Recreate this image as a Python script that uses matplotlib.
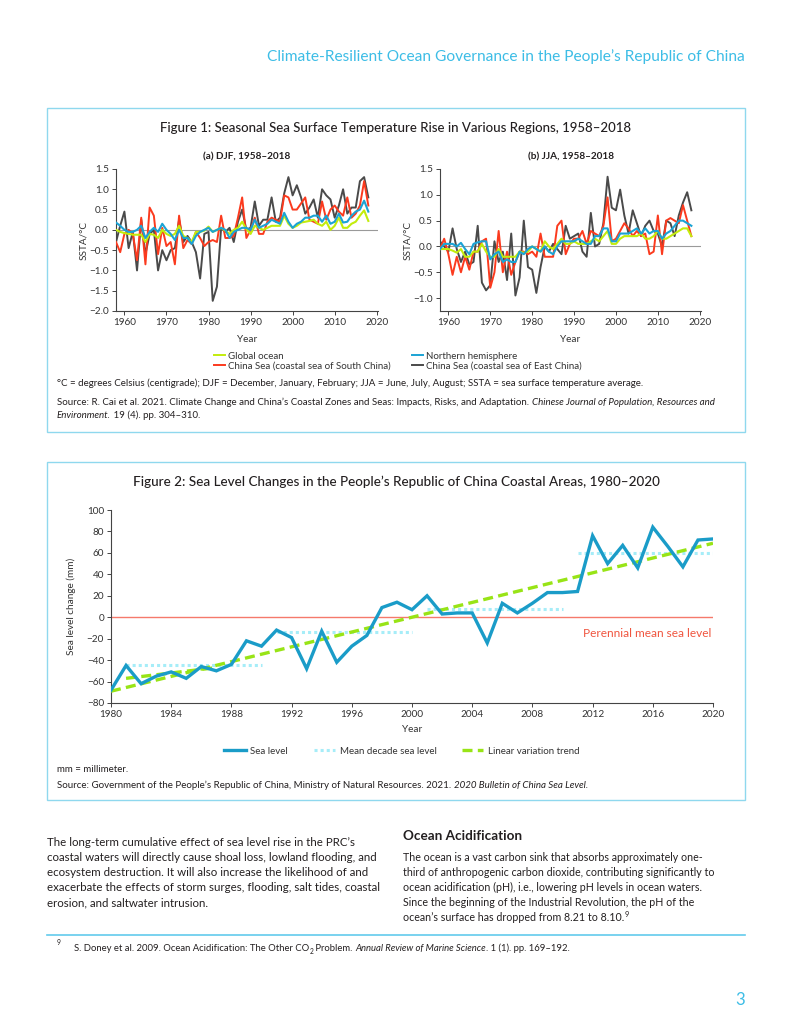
import matplotlib
matplotlib.use("Agg")
import matplotlib.pyplot as plt
from matplotlib.lines import Line2D
from matplotlib.patches import Rectangle

plt.rcParams['font.family'] = ['Lato', 'DejaVu Sans']
plt.rcParams['axes.unicode_minus'] = True

# ---------------------------------------------------------------
# Figure 1 data: seasonal SST anomalies, 1958-2018
# ---------------------------------------------------------------
years = list(range(1958, 2019))

djf_global = [0.0, -0.05, -0.08, -0.1, -0.12, -0.12, -0.12, -0.3, -0.1, -0.12,
              -0.2, 0.0, -0.1, -0.15, -0.1, 0.1, -0.15, -0.2, -0.3, -0.05,
              -0.05, -0.02, 0.08, -0.05, 0.0, 0.05, -0.02, -0.1, 0.0, 0.05,
              0.2, 0.02, -0.1, 0.1, 0.05, 0.0, 0.05, 0.1, 0.1, 0.1,
              0.35, 0.15, 0.05, 0.1, 0.18, 0.2, 0.22, 0.25, 0.15, 0.1,
              0.2, 0.0, 0.1, 0.3, 0.05, 0.05, 0.15, 0.2, 0.35, 0.48, 0.22]
djf_north = [0.18, 0.1, 0.0, -0.05, -0.05, 0.0, 0.1, -0.2, -0.05, 0.05,
             -0.05, 0.15, 0.0, -0.1, -0.25, 0.0, -0.2, -0.2, -0.35, -0.15,
             -0.05, 0.0, 0.05, -0.05, 0.0, 0.05, 0.0, -0.2, -0.05, 0.0,
             0.05, 0.05, 0.0, 0.25, 0.05, 0.1, 0.15, 0.25, 0.2, 0.15,
             0.42, 0.2, 0.05, 0.15, 0.2, 0.3, 0.3, 0.35, 0.35, 0.2,
             0.35, 0.15, 0.2, 0.4, 0.18, 0.2, 0.35, 0.45, 0.5, 0.72, 0.45]
djf_south = [-0.3, -0.55, -0.1, 0.0, -0.1, -0.75, 0.3, -0.85, 0.55, 0.35,
             -0.6, 0.05, -0.4, -0.3, -0.85, 0.35, -0.45, -0.25, -0.35, -0.05,
             -0.2, -0.4, -0.3, -0.25, -0.3, 0.35, -0.2, -0.2, -0.15, 0.3,
             0.8, -0.2, 0.0, 0.3, -0.1, -0.1, 0.2, 0.3, 0.25, 0.2,
             0.85, 0.8, 0.5, 0.5, 0.65, 0.8, 0.25, 0.2, 0.15, 0.7,
             0.25, 0.5, 0.6, 0.45, 0.35, 0.8, 0.3, 0.4, 0.6, 1.2, 0.6]
djf_east = [-0.3, 0.1, 0.45, -0.45, -0.05, -1.0, 0.25, -0.6, -0.1, 0.0,
            -1.0, -0.5, -0.75, -0.5, -0.45, 0.25, -0.3, -0.15, -0.3, -0.55,
            -1.2, -0.1, -0.05, -1.75, -1.4, 0.05, -0.05, 0.05, -0.3, 0.2,
            0.5, 0.0, 0.05, 0.7, 0.1, 0.25, 0.25, 0.8, 0.2, 0.3,
            0.9, 1.3, 0.85, 1.1, 0.8, 0.4, 0.55, 0.75, 0.3, 1.0,
            0.85, 0.75, 0.3, 0.6, 1.0, 0.4, 0.55, 0.55, 1.2, 1.3, 0.8]

jja_global = [-0.05, -0.05, -0.05, -0.08, -0.12, -0.05, -0.2, -0.2, -0.1, -0.1,
              0.05, -0.1, -0.2, -0.2, -0.05, -0.2, -0.2, -0.2, -0.2, -0.1,
              -0.12, -0.1, 0.0, -0.05, -0.1, 0.1, 0.0, -0.05, 0.05, 0.15,
              0.05, 0.05, 0.1, 0.05, 0.05, 0.05, 0.1, 0.15, 0.1, 0.2,
              0.3, 0.05, 0.05, 0.15, 0.2, 0.2, 0.2, 0.2, 0.25, 0.15,
              0.15, 0.2, 0.3, 0.15, 0.15, 0.2, 0.25, 0.3, 0.35, 0.35, 0.2]
jja_north = [-0.05, 0.05, 0.05, 0.05, 0.0, 0.07, -0.05, -0.15, 0.05, 0.08,
             0.1, 0.1, -0.25, -0.15, -0.1, -0.3, -0.25, -0.3, -0.3, -0.1,
             -0.15, -0.05, 0.0, -0.05, -0.1, 0.0, -0.1, -0.15, 0.0, 0.1,
             0.1, 0.1, 0.1, 0.15, 0.1, 0.05, 0.05, 0.2, 0.2, 0.35,
             0.35, 0.1, 0.1, 0.25, 0.25, 0.25, 0.3, 0.35, 0.25, 0.35,
             0.25, 0.3, 0.3, 0.15, 0.25, 0.3, 0.4, 0.5, 0.5, 0.45, 0.4]
jja_south = [-0.05, 0.15, -0.15, -0.55, -0.2, -0.5, -0.2, -0.45, -0.1, -0.1,
             0.1, 0.15, -0.8, -0.5, 0.3, -0.5, -0.1, -0.55, -0.3, -0.1,
             -0.1, -0.15, -0.1, -0.2, 0.25, -0.2, -0.2, -0.2, 0.4, 0.5,
             -0.15, 0.05, 0.15, 0.15, 0.3, 0.05, 0.3, 0.25, 0.2, 0.4,
             0.95, 0.1, 0.15, 0.3, 0.45, 0.35, 0.2, 0.3, 0.2, 0.25,
             -0.15, -0.1, 0.6, -0.15, 0.5, 0.55, 0.5, 0.45, 0.8, 0.5, 0.2]
jja_east = [0.1, 0.0, -0.1, 0.35, -0.05, -0.3, -0.1, -0.35, -0.3, 0.4,
            -0.7, -0.85, -0.75, 0.1, -0.3, -0.1, -0.65, 0.25, -0.95, -0.6,
            0.5, -0.4, -0.45, -0.9, -0.4, 0.0, -0.1, 0.05, -0.05, -0.15,
            0.4, 0.15, 0.2, 0.25, -0.1, -0.2, 0.65, 0.0, 0.05, 0.45,
            1.35, 0.75, 0.7, 1.1, 0.6, 0.25, 0.7, 0.45, 0.2, 0.4,
            0.5, 0.3, 0.25, 0.0, 0.5, 0.45, 0.2, 0.6, 0.85, 1.05, 0.7]

# ---------------------------------------------------------------
# Figure 2 data: sea level change, 1980-2020
# ---------------------------------------------------------------
sl_years = list(range(1980, 2021))
sea_level = [-68, -45, -62, -55, -51, -57, -46, -50, -44, -22,
             -27, -12, -19, -48, -13, -42, -27, -17, 9, 14,
             7, 20, 3, 4, 4, -24, 13, 4, 13, 23,
             23, 24, 76, 50, 67, 46, 84, 66, 47, 72, 73]
decade_start = [1981, 1991, 2001, 2011]
decade_end = [1990, 2000, 2010, 2020]
decade_mean = [-45, -14, 8, 60]
trend_years = [1980, 2020]
trend_vals = [-69, 69]
trend2_years = [1981, 1987]
trend2_vals = [-57, -47]

# colours
C_GREEN = "#c3ec0c"
C_BLUE = "#1ba3d4"
C_RED = "#fb3a1e"
C_GRAY = "#4a4a4a"
C_CYAN = "#3dbde6"
C_BOX = "#8fd8ee"
C_TEXT = "#231f20"

W, H = 791, 1024


def fx(px):
    return px / W


def fy(py):
    return 1 - py / H


fig = plt.figure(figsize=(W / 100, H / 100), dpi=100)
renderer = fig.canvas.get_renderer()


def text_width(txt, size, style="normal", weight="normal"):
    t = fig.text(0, 0, txt + ".", fontsize=size, style=style, weight=weight)
    d = fig.text(0, 0, ".", fontsize=size, style=style, weight=weight)
    w = t.get_window_extent(renderer).width - d.get_window_extent(renderer).width
    t.remove()
    d.remove()
    return w


def draw_runs(x, y, runs, size, color=C_TEXT):
    """Draw a line made of pieces with different styles, x/y in pixels (baseline)."""
    for txt, kind in runs:
        style = "italic" if kind == "i" else "normal"
        s = size
        dy = 0
        if kind == "sub":
            s = size * 0.7
            dy = 2.5
        elif kind == "sup":
            s = size * 0.7
            dy = -4
        fig.text(fx(x), fy(y + dy), txt, fontsize=s, style=style, color=color,
                 va="baseline", ha="left")
        x += text_width(txt, s, style)


# ---------------------------------------------------------------
# page furniture
# ---------------------------------------------------------------
fig.text(fx(745), fy(57), "Climate-Resilient Ocean Governance in the People\u2019s Republic of China",
         fontsize=11.2, color=C_CYAN, ha="right", va="center")

for top, bottom in [(108, 432), (462, 800)]:
    fig.patches.append(Rectangle((fx(47), fy(bottom)), (745 - 47) / W, (bottom - top) / H,
                                 transform=fig.transFigure, fill=False,
                                 edgecolor=C_BOX, lw=1.0))

fig.text(fx(396), fy(128), "Figure 1: Seasonal Sea Surface Temperature Rise in Various Regions, 1958\u20132018",
         fontsize=9.55, color=C_TEXT, ha="center", va="center", weight="medium")
fig.text(fx(396), fy(482), "Figure 2: Sea Level Changes in the People\u2019s Republic of China Coastal Areas, 1980\u20132020",
         fontsize=9.75, color=C_TEXT, ha="center", va="center", weight="medium")


def style_axes(ax):
    for side in ["top", "right"]:
        ax.spines[side].set_visible(False)
    for side in ["left", "bottom"]:
        ax.spines[side].set_color("#444444")
        ax.spines[side].set_linewidth(0.8)
    ax.tick_params(axis="both", direction="out", length=3, width=0.7, color="#444444",
                   labelsize=7.2, labelcolor="#333333", pad=2)


# ---------------------------------------------------------------
# Figure 1 panels
# ---------------------------------------------------------------
panels = [
    (116, 378, "(a) DJF, 1958\u20132018", (-2.0, 1.5), [-2.0, -1.5, -1.0, -0.5, 0.0, 0.5, 1.0, 1.5],
     djf_global, djf_north, djf_south, djf_east, 84),
    (440, 701, "(b) JJA, 1958\u20132018", (-1.25, 1.5), [-1.0, -0.5, 0.0, 0.5, 1.0, 1.5],
     jja_global, jja_north, jja_south, jja_east, 408),
]
for left, right, title, ylim, yticks, g, n, s, e, ylab_x in panels:
    ax = fig.add_axes([fx(left), fy(311), (right - left) / W, (311 - 169) / H])
    style_axes(ax)
    ax.axhline(0, color="#9a9a9a", lw=0.8, zorder=1)
    ax.plot(years, e, color=C_GRAY, lw=1.4, zorder=2)
    ax.plot(years, s, color=C_RED, lw=1.4, zorder=3)
    ax.plot(years, g, color=C_GREEN, lw=1.5, zorder=4)
    ax.plot(years, n, color=C_BLUE, lw=1.5, zorder=5)
    ax.set_xlim(1958, 2020.3)
    ax.set_ylim(*ylim)
    ax.set_xticks([1960, 1970, 1980, 1990, 2000, 2010, 2020])
    ax.set_yticks(yticks)
    ax.set_yticklabels([f"{v:.1f}".replace("-", "\u2212") for v in yticks])
    ax.set_xlabel("Year", fontsize=7.2, color="#333333", labelpad=6)
    fig.text(fx((left + right) / 2), fy(157), title, fontsize=7.2, weight="bold",
             color=C_TEXT, ha="center", va="center")
    fig.text(fx(ylab_x), fy(240), "SSTA/\u00b0C", fontsize=7.2, color="#333333",
             rotation=90, ha="center", va="center")

leg1_handles = [Line2D([], [], color=C_GREEN, lw=1.4),
                Line2D([], [], color=C_RED, lw=1.4),
                Line2D([], [], color=C_BLUE, lw=1.4),
                Line2D([], [], color=C_GRAY, lw=1.4)]
leg1_labels = ["Global ocean", "China Sea (coastal sea of South China)",
               "Northern hemisphere", "China Sea (coastal sea of East China)"]
fig.legend(leg1_handles, leg1_labels, ncol=2, loc="center",
           bbox_to_anchor=(fx(398), fy(361)), frameon=False, fontsize=7,
           handlelength=1.1, handletextpad=0.3, columnspacing=2.2,
           labelspacing=0.05, borderpad=0, labelcolor="#333333")

draw_runs(57, 386, [("\u00b0C = degrees Celsius (centigrade); DJF = December, January, February; "
                     "JJA = June, July, August; SSTA = sea surface temperature average.", "n")], 7.0)
draw_runs(57, 405, [("Source: R. Cai et al. 2021. Climate Change and China\u2019s Coastal Zones and Seas: "
                     "Impacts, Risks, and Adaptation. ", "n"),
                    ("Chinese Journal of Population, Resources and", "i")], 7.05)
draw_runs(57, 418, [("Environment.", "i"), (" 19 (4). pp. 304\u2013310.", "n")], 7.05)

# ---------------------------------------------------------------
# Figure 2
# ---------------------------------------------------------------
ax2 = fig.add_axes([fx(111), fy(703), (713 - 111) / W, (703 - 510) / H])
style_axes(ax2)
ax2.axhline(0, color="#f57a6b", lw=1.0, zorder=1)
for x0, x1, m in zip(decade_start, decade_end, decade_mean):
    ax2.plot([x0, x1], [m, m], color="#a6edf8", lw=2.2, linestyle=(0, (1, 1)), zorder=2)
ax2.plot(trend_years, trend_vals, color="#98e416", lw=2.4, linestyle=(0, (3, 1.6)), zorder=3)
ax2.plot(trend2_years, trend2_vals, color="#98e416", lw=2.4, linestyle=(0, (3, 1.6)), zorder=3)
ax2.plot(sl_years, sea_level, color="#1a9cc8", lw=2.4, zorder=4, solid_joinstyle="miter")
ax2.set_xlim(1980, 2020)
ax2.set_ylim(-80, 100)
ax2.set_xticks(list(range(1980, 2021, 4)))
ax2.set_yticks(list(range(-80, 101, 20)))
ax2.set_yticklabels([str(v).replace("-", "\u2212") for v in range(-80, 101, 20)])
ax2.set_xlabel("Year", fontsize=7.2, color="#333333", labelpad=4)
ax2.set_ylabel("Sea level change (mm)", fontsize=7.2, color="#333333", labelpad=8)
ax2.text(2019.9, -15, "Perennial mean sea level", color="#f0553f", fontsize=8.6,
         ha="right", va="center")

leg2_handles = [Line2D([], [], color="#1a9cc8", lw=2.4),
                Line2D([], [], color="#a6edf8", lw=2.2, linestyle=(0, (1, 1))),
                Line2D([], [], color="#98e416", lw=2.4, linestyle=(0, (3, 1.6)))]
fig.legend(leg2_handles, ["Sea level", "Mean decade sea level", "Linear variation trend"],
           ncol=3, loc="center", bbox_to_anchor=(fx(402), fy(751)), frameon=False,
           fontsize=7, handlelength=2.2, handletextpad=0.5, columnspacing=2.6,
           borderpad=0, labelcolor="#333333")

draw_runs(57, 772, [("mm = millimeter.", "n")], 7.0)
draw_runs(57, 788, [("Source: Government of the People\u2019s Republic of China, Ministry of Natural "
                     "Resources. 2021. ", "n"), ("2020 Bulletin of China Sea Level.", "i")], 7.05)

# ---------------------------------------------------------------
# body text
# ---------------------------------------------------------------
left_lines = [
    "The long-term cumulative effect of sea level rise in the PRC\u2019s",
    "coastal waters will directly cause shoal loss, lowland flooding, and",
    "ecosystem destruction. It will also increase the likelihood of and",
    "exacerbate the effects of storm surges, flooding, salt tides, coastal",
    "erosion, and saltwater intrusion.",
]
for i, line in enumerate(left_lines):
    draw_runs(47, 846 + 15 * i, [(line, "n")], 8.3)

fig.text(fx(403), fy(836), "Ocean Acidification", fontsize=9.7, weight="bold",
         color=C_TEXT, ha="left", va="center")
right_lines = [
    "The ocean is a vast carbon sink that absorbs approximately one-",
    "third of anthropogenic carbon dioxide, contributing significantly to",
    "ocean acidification (pH), i.e., lowering pH levels in ocean waters.",
    "Since the beginning of the Industrial Revolution, the pH of the",
]
for i, line in enumerate(right_lines):
    draw_runs(403, 861 + 15 * i, [(line, "n")], 7.7)
draw_runs(403, 921, [("ocean\u2019s surface has dropped from 8.21 to 8.10.", "n"), ("9", "sup")], 7.7)

fig.lines.append(Line2D([fx(47), fx(745)], [fy(935), fy(935)], transform=fig.transFigure,
                        color="#62cbec", lw=1.2))
draw_runs(57, 949, [("9", "sup")], 6.9)
draw_runs(74, 951, [("S. Doney et al. 2009. Ocean Acidification: The Other CO", "n"), ("2", "sub"),
                    (" Problem. ", "n"), ("Annual Review of Marine Science", "i"),
                    (". 1 (1). pp. 169\u2013192.", "n")], 6.85)

fig.text(fx(745), fy(1000), "3", fontsize=12, color=C_CYAN, ha="right", va="center")

fig.savefig("out.png", dpi=100)
